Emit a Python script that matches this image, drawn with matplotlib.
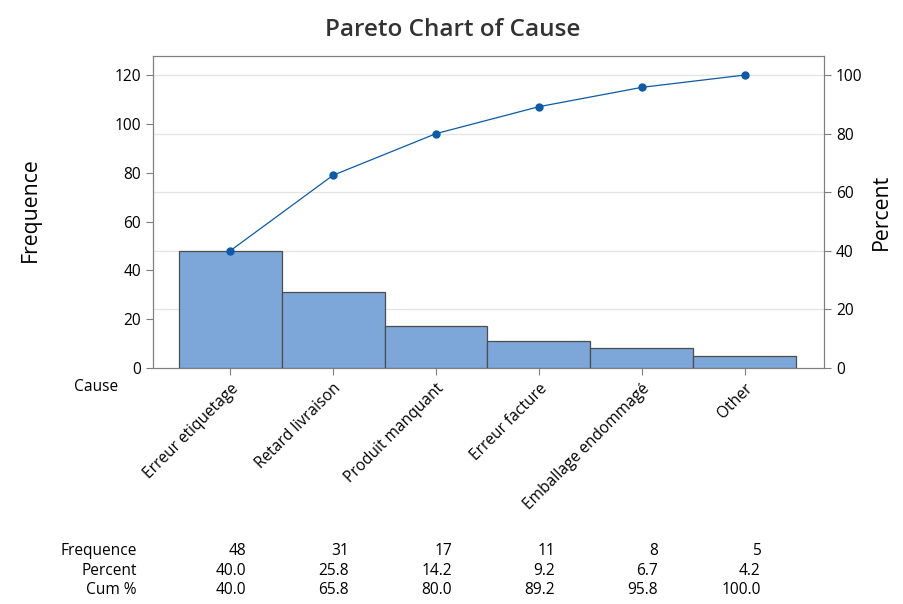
import matplotlib
matplotlib.use("Agg")
import matplotlib.pyplot as plt
import numpy as np

categories = ["Erreur etiquetage", "Retard livraison", "Produit manquant",
              "Erreur facture", "Emballage endommagé", "Other"]
frequence = [48, 31, 17, 11, 8, 5]
percent = ["40.0", "25.8", "14.2", "9.2", "6.7", "4.2"]
cum_pct = [40.0, 65.8, 80.0, 89.2, 95.8, 100.0]
left_ticks = [0, 20, 40, 60, 80, 100, 120]
right_ticks = [0, 20, 40, 60, 80, 100]

plt.rcParams['font.family'] = ['Open Sans', 'DejaVu Sans']
FS = 11.2

fig = plt.figure(figsize=(9.04, 6.04), dpi=100)
ax = fig.add_axes([153/904, 1-368/604, (824-153)/904, (368-56)/604])
x = np.arange(len(categories))
total = sum(frequence)
ax.bar(x, frequence, width=1.0, color="#7DA7D9", edgecolor="#4d4d4d", linewidth=0.9, zorder=3)
ax.set_xlim(-0.75, 5.77)
ymax = 127.8
ax.set_ylim(0, ymax)
ax.set_yticks(left_ticks)
ax.set_xticks(x)
ax.set_xticklabels(categories, rotation=45, ha='right', rotation_mode='anchor', fontsize=FS)
for s in ax.spines.values():
    s.set_color("#7f7f7f")
ax.tick_params(axis='both', colors="#7f7f7f", labelcolor="black", labelsize=FS, length=5)
ax.tick_params(axis='x', pad=4)

ax2 = ax.twinx()
ax2.set_ylim(0, ymax / total * 100)
ax2.set_yticks(right_ticks)
for s in ax2.spines.values():
    s.set_color("#7f7f7f")
ax2.tick_params(axis='y', colors="#7f7f7f", labelcolor="black", labelsize=FS, length=5)
for t in right_ticks[1:]:
    ax2.axhline(t, color="#e3e3e3", linewidth=0.9, zorder=0)
ax.set_zorder(ax2.get_zorder() + 1)
ax.patch.set_visible(False)
ax2.patch.set_visible(True)
ax2.patch.set_facecolor("white")

ax3 = ax.twinx()
ax3.set_ylim(ax2.get_ylim())
ax3.axis('off')
ax3.plot(x, cum_pct, color="#0B5BA8", linewidth=0.9, marker='o', markersize=5, zorder=5)

fig.text(30/904, 1-210/604, "Frequence", rotation=90, ha='center', va='center', fontsize=15.3)
fig.text(881/904, 1-212/604, "Percent", rotation=90, ha='center', va='center', fontsize=15.3)
fig.text(453/904, 1-30/604, "Pareto Chart of Cause", ha='center', va='center', fontsize=17.5,
         color="#333333", fontweight='semibold')
fig.text(118/904, 1-387/604, "Cause", ha='right', va='center', fontsize=FS)

rows = [("Frequence", [str(v) for v in frequence], 551),
        ("Percent", percent, 571),
        ("Cum %", [f"{v:.1f}" for v in cum_pct], 590)]
for label, vals, yp in rows:
    fig.text(137/904, 1-yp/604, label, ha='right', va='center', fontsize=FS)
    for i, v in enumerate(vals):
        xd = ax.transData.transform((x[i], 0))[0]
        fig.text((xd + 16)/904, 1-yp/604, v, ha='right', va='center', fontsize=FS)

fig.savefig("out.png", dpi=100)
